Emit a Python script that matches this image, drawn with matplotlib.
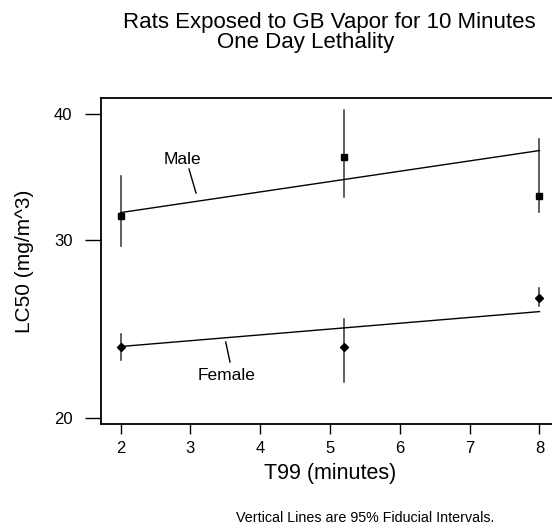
import matplotlib
matplotlib.use("Agg")
import matplotlib.pyplot as plt
from matplotlib.ticker import FixedLocator, NullLocator, FixedFormatter

plt.rcParams["font.family"] = ["Liberation Sans", "DejaVu Sans"]

# exposure time T99 (minutes)
t99 = [2.0, 5.2, 8.0]

# male LC50 with 95% fiducial limits
male_lc50 = [31.7, 36.3, 33.2]
male_lo = [29.6, 33.1, 32.0]
male_hi = [34.7, 40.4, 37.8]
male_fit = [31.95, 36.8]

# female LC50 with 95% fiducial limits
female_lc50 = [23.55, 23.55, 26.3]
female_lo = [22.85, 21.7, 25.85]
female_hi = [24.25, 25.05, 26.9]
female_fit = [23.55, 25.5]

fit_x = [2.0, 8.0]
y_ticks = [20, 30, 40]
x_ticks = [2, 3, 4, 5, 6, 7, 8]


def main() -> None:
    fig = plt.figure(figsize=(5.52, 5.27), dpi=100)
    W, H = 552, 527
    ax = fig.add_axes([101 / W, 1 - 424 / H, (559 - 101) / W, (424 - 98) / H])

    ax.set_yscale("log")
    ax.set_xlim(1.72, 8.28)
    ax.set_ylim(19.74, 41.48)

    for x, lo, hi in zip(t99, male_lo, male_hi):
        ax.plot([x, x], [lo, hi], color="#333333", lw=1.1)
    for x, lo, hi in zip(t99, female_lo, female_hi):
        ax.plot([x, x], [lo, hi], color="#333333", lw=1.1)

    ax.plot(fit_x, male_fit, color="black", lw=1.0)
    ax.plot(fit_x, female_fit, color="black", lw=1.0)
    ax.plot(t99, male_lc50, ls="none", marker="s", ms=4.5, color="black")
    ax.plot(t99, female_lc50, ls="none", marker="D", ms=4.5, color="black")

    # curve labels with leader lines
    fig.text(182 / W, 1 - 159 / H, "Male", ha="center", va="center", fontsize=12.5)
    fig.add_artist(plt.Line2D([189 / W, 196 / W], [1 - 169 / H, 1 - 193 / H], color="black", lw=1.0))
    fig.text(227 / W, 1 - 375 / H, "Female", ha="center", va="center", fontsize=12.5)
    fig.add_artist(plt.Line2D([225.7 / W, 230 / W], [1 - 342 / H, 1 - 362 / H], color="black", lw=1.0))

    ax.yaxis.set_major_locator(FixedLocator(y_ticks))
    ax.yaxis.set_major_formatter(FixedFormatter([str(v) for v in y_ticks]))
    ax.yaxis.set_minor_locator(NullLocator())
    ax.set_xticks(x_ticks)

    ax.tick_params(axis="y", direction="out", length=11.5, width=1.0, pad=9, labelsize=12)
    ax.tick_params(axis="x", direction="out", length=7.5, width=1.0, pad=5, labelsize=12)
    for side in ["left", "bottom", "top", "right"]:
        ax.spines[side].set_linewidth(1.3)

    ax.set_xlabel("T99 (minutes)", fontsize=15.5, labelpad=5)
    ax.set_ylabel("LC50 (mg/m^3)", fontsize=15, labelpad=14)

    fig.text(329 / W, 1 - 28 / H, "Rats Exposed to GB Vapor for 10 Minutes",
             ha="center", va="baseline", fontsize=16)
    fig.text(306 / W, 1 - 48 / H, "One Day Lethality",
             ha="center", va="baseline", fontsize=16)
    fig.text(365 / W, 1 - 518 / H, "Vertical Lines are 95% Fiducial Intervals.",
             ha="center", va="center", fontsize=10.3)

    fig.savefig("out.png", dpi=100)
    plt.close(fig)


if __name__ == "__main__":
    main()
